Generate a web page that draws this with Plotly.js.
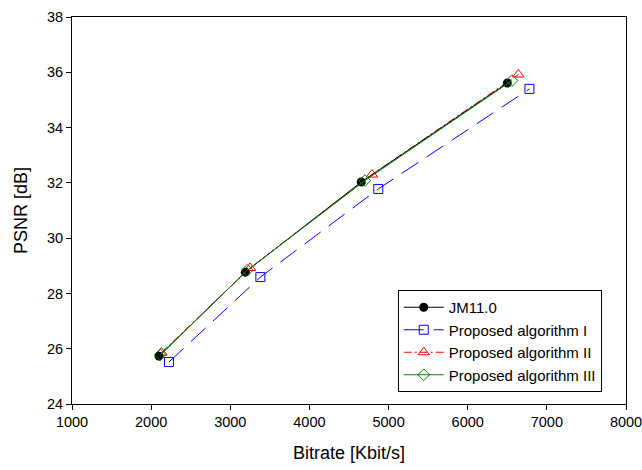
<!DOCTYPE html>
<html><head><meta charset="utf-8">
<script src="https://cdn.plot.ly/plotly-3.0.1.min.js"></script>
<style>body{margin:0;padding:0;background:#fff}#chart{width:642px;height:470px}</style>
</head><body><div id="chart"></div>
<script>
const seriesNames = ["JM11.0", "Proposed algorithm I", "Proposed algorithm II", "Proposed algorithm III"];
const jmX = [2100, 3190, 4655, 6500];
const jmY = [25.73, 28.77, 32.03, 35.61];
const alg1X = [2225, 3380, 4870, 6780];
const alg1Y = [25.52, 28.59, 31.78, 35.40];
const alg2X = [2130, 3250, 4790, 6640];
const alg2Y = [25.86, 28.92, 32.30, 35.92];
const alg3X = [2115, 3215, 4700, 6560];
const alg3Y = [25.78, 28.84, 32.08, 35.70];
const xTicks = [1000, 2000, 3000, 4000, 5000, 6000, 7000, 8000];
const yTicks = [24, 26, 28, 30, 32, 34, 36, 38];

const traces = [
  {x: alg1X, y: alg1Y, name: seriesNames[1], mode: "lines+markers", legendrank: 2,
   line: {color: "#0000ff", width: 1, dash: "20px,10px"},
   marker: {symbol: "square-open", size: 9, color: "#0000ff", line: {width: 1}}},
  {x: alg2X, y: alg2Y, name: seriesNames[2], mode: "lines+markers", legendrank: 3,
   line: {color: "#ff0000", width: 1, dash: "8px,3px,2px,3px"},
   marker: {symbol: "triangle-up-open", size: 10, color: "#ff0000", line: {width: 1}}},
  {x: jmX, y: jmY, name: seriesNames[0], mode: "lines+markers", legendrank: 1,
   line: {color: "#000000", width: 1},
   marker: {symbol: "circle", size: 9, color: "#000000"}},
  {x: alg3X, y: alg3Y, name: seriesNames[3], mode: "lines+markers", legendrank: 4,
   line: {color: "#008000", width: 1},
   marker: {symbol: "diamond-open", size: 9, color: "#008000", line: {width: 1}}}
];

const layout = {
  width: 642, height: 470,
  margin: {l: 72, r: 16, t: 17, b: 66},
  paper_bgcolor: "#fff", plot_bgcolor: "#fff",
  font: {family: "Arial, Liberation Sans, sans-serif", size: 14, color: "#000"},
  showlegend: true,
  legend: {x: 0.588, y: 0.031, xanchor: "left", yanchor: "bottom",
    bordercolor: "#000", borderwidth: 1, bgcolor: "#fff",
    font: {size: 15}, tracegroupgap: 0, itemwidth: 40, entrywidth: 215},
  xaxis: {range: [1000, 8000], tickvals: xTicks, ticktext: xTicks.map(String),
    ticks: "outside", ticklen: 5, tickcolor: "#000", showgrid: false, zeroline: false,
    showline: true, linecolor: "#000", linewidth: 1, mirror: true,
    ticklabeloverflow: "allow", automargin: false,
    tickfont: {size: 14.5},
    title: {text: "Bitrate [Kbit/s]", font: {size: 18}, standoff: 16}},
  yaxis: {range: [24, 38], tickvals: yTicks, ticktext: yTicks.map(String),
    ticks: "outside", ticklen: 5, tickcolor: "#000", showgrid: false, zeroline: false,
    showline: true, linecolor: "#000", linewidth: 1, mirror: true,
    ticklabeloverflow: "allow", automargin: false,
    tickfont: {size: 14.5},
    title: {text: "PSNR [dB]", font: {size: 18}, standoff: 14}}
};
Plotly.newPlot("chart", traces, layout, {displayModeBar: false});
</script></body></html>
